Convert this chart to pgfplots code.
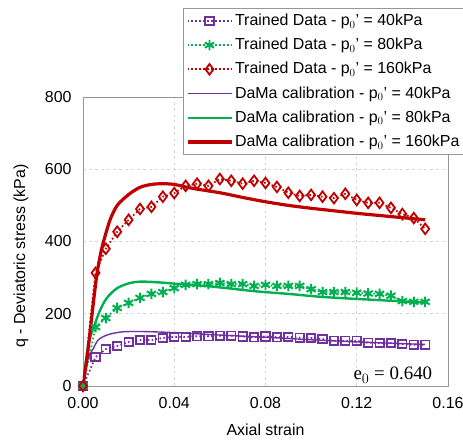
\documentclass[border=0pt]{standalone}
\usepackage{pgfplots}
\pgfplotsset{compat=1.18}
\usepackage{pgfplotstable}
\usepackage{fontspec}
\setmainfont{Liberation Sans}
\newfontfamily\timesfont{Liberation Serif}
\definecolor{cpurple}{RGB}{112,48,160}
\definecolor{cgreen}{RGB}{0,176,80}
\definecolor{cred}{RGB}{192,0,0}
\definecolor{gridc}{RGB}{217,217,217}
\definecolor{axc}{RGB}{150,150,150}

\pgfplotstableread{
x y
0 0
0.0055 80
0.010 102
0.015 111
0.020 122
0.025 127
0.030 127
0.035 133
0.040 136
0.045 136
0.050 138
0.055 138
0.060 139
0.065 139
0.070 137
0.075 135
0.080 137
0.085 135
0.090 136
0.095 134
0.100 133
0.105 130
0.110 125
0.115 125
0.120 125
0.125 120
0.130 119
0.135 119
0.140 116
0.145 114
0.150 114
}\datapurple

\pgfplotstableread{
x y
0 0
0.0055 163
0.010 188
0.015 216
0.020 230
0.025 244
0.030 255
0.035 260
0.040 271
0.045 280
0.050 282
0.055 282
0.060 285
0.065 282
0.070 282
0.075 277
0.080 280
0.085 277
0.090 277
0.095 277
0.100 268
0.105 260
0.110 260
0.115 260
0.120 258
0.125 256
0.130 255
0.135 250
0.140 235
0.145 233
0.150 233
}\datagreen

\pgfplotstableread{
x y
0 0
0.0055 313
0.010 380
0.015 427
0.020 460
0.025 490
0.030 496
0.035 524
0.040 534
0.045 554
0.050 560
0.055 554
0.060 573
0.065 568
0.070 560
0.075 568
0.080 562
0.085 551
0.090 535
0.095 526
0.100 529
0.105 524
0.110 520
0.115 532
0.120 515
0.125 507
0.130 507
0.135 493
0.140 476
0.145 465
0.150 435
}\datared

\pgfplotstableread{
x y
0 0
0.001 40
0.002 70
0.003 88
0.0044 102
0.0066 127
0.0105 141
0.016 149
0.022 151
0.031 150
0.0425 147
0.060 141
0.080 135
0.100 128
0.120 122
0.150 115
}\calpurple

\pgfplotstableread{
x y
0 0
0.001 55
0.002 100
0.003 132
0.0044 158
0.0075 210
0.0105 244
0.015 271
0.0206 285
0.026 289
0.035 286
0.0425 282
0.050 279
0.060 273
0.076 262
0.090 255
0.104 247
0.120 241
0.150 231
}\calgreen

\pgfplotstableread{
x y
0 0
0.002 90
0.004 200
0.006 305
0.008 375
0.010 422
0.012 462
0.015 500
0.020 530
0.025 550
0.030 558
0.035 560
0.040 558
0.045 551
0.050 545
0.060 535
0.070 522
0.080 510
0.090 500
0.100 492
0.110 485
0.120 478
0.130 472
0.140 466
0.150 460
}\calred

\begin{document}
\fontsize{16}{19}\selectfont
\begin{tikzpicture}
\begin{axis}[
  scale only axis,
  width=365bp, height=289bp,
  xmin=0, xmax=0.16, ymin=0, ymax=800,
  xtick={0,0.04,0.08,0.12,0.16},
  ytick={0,200,400,600,800},
  xticklabel style={/pgf/number format/.cd,fixed,fixed zerofill,precision=2,assume math mode=true},
  yticklabel style={/pgf/number format/assume math mode=true},
  scaled x ticks=false,
  tick label style={font=\fontsize{16}{19}\selectfont},
  major tick length=0pt,
  xtick align=outside, ytick align=outside,
  xticklabel shift=6bp, yticklabel shift=6bp,
  grid=major,
  major grid style={gridc, dashed, line width=0.8pt},
  axis line style={axc, line width=1pt},
  xlabel={Axial strain},
  ylabel={q - Deviatoric stress (kPa)},
  label style={font=\fontsize{16}{19}\selectfont},
  xlabel style={at={(axis description cs:0.5,-0.152)}, anchor=center},
  ylabel style={at={(axis description cs:-0.170,0.45)}, anchor=center},
  legend style={at={(axis description cs:0.274,1.308)}, anchor=north west,
    draw=axc, line width=0.8pt, fill=white, font=\fontsize{16}{19}\selectfont,
    row sep=6.3bp, inner xsep=2.5bp, inner ysep=3.5bp, cells={anchor=west}},
  legend cell align=left,
  legend image code/.code={\draw[mark repeat=2,mark phase=2] plot coordinates {(0bp,0bp)(22bp,0bp)(44bp,0bp)};},
]
\addplot[cpurple, line width=1.8pt, dash pattern=on 1.6pt off 2.4pt, mark=square, mark size=4.2bp, mark options={solid, line width=1.7pt}] table[x=x,y=y] {\datapurple};
\addlegendentry{Trained Data - p$_0$' = 40kPa}
\addplot[cgreen, line width=1.8pt, dash pattern=on 1.6pt off 2.4pt, mark=asterisk, mark size=5.3bp, mark options={solid, line width=2pt}] table[x=x,y=y] {\datagreen};
\addlegendentry{Trained Data - p$_0$' = 80kPa}
\addplot[cred, line width=1.8pt, dash pattern=on 1.6pt off 2.4pt, mark=diamond, mark size=5.3bp, mark options={solid, line width=1.8pt}] table[x=x,y=y] {\datared};
\addlegendentry{Trained Data - p$_0$' = 160kPa}
\addplot[cpurple, line width=1.4pt, smooth, no marks] table[x=x,y=y] {\calpurple};
\addlegendentry{DaMa calibration - p$_0$' = 40kPa}
\addplot[cgreen, line width=2.4pt, smooth, no marks] table[x=x,y=y] {\calgreen};
\addlegendentry{DaMa calibration - p$_0$' = 80kPa}
\addplot[cred, line width=3.2pt, smooth, no marks] table[x=x,y=y] {\calred};
\addlegendentry{DaMa calibration - p$_0$' = 160kPa}
\node[anchor=base east, font=\timesfont\fontsize{19}{22}\selectfont] at (axis cs:0.1555,17) {e$_0$ = 0.640};
\end{axis}
\pgfresetboundingbox
\path (-83bp,-58bp) rectangle (380bp,386bp);
\end{tikzpicture}
\end{document}
